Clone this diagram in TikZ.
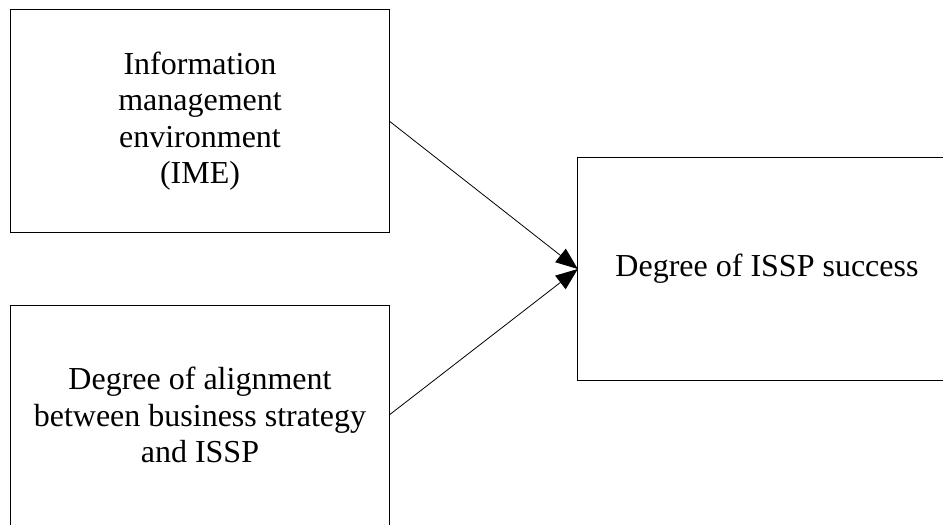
\documentclass[tikz,border=0pt]{standalone}
\usepackage{fontspec}
\setmainfont{Liberation Serif}
\usetikzlibrary{arrows.meta}
\begin{document}
\begin{tikzpicture}[x=1pt,y=-1pt,
  box/.style={minimum width=378pt,inner sep=0pt,align=center,
    font=\fontsize{32}{36.5}\selectfont},
  frame/.style={draw=black,line width=1.2pt},
  conn/.style={draw=black,line width=0.8pt,-{Triangle[length=22pt,width=17pt]}}]
\useasboundingbox (0,0) rectangle (943,525);
\node[box,minimum height=222pt] (ime) at (200,121) {Information\\management\\environment\\(IME)};
\node[box,minimum height=218pt] (align) at (200,415) {Degree of alignment\\between business strategy\\and ISSP};
\node[box,minimum height=222pt] (succ) at (767,269) {Degree of ISSP success};
\begin{scope}
\clip (0,0) rectangle (943,525);
\draw[frame] (ime.north west) rectangle (ime.south east);
\draw[frame] (align.north west) rectangle ([yshift=-20pt]align.south east);
\draw[frame] (succ.north west) rectangle ([xshift=20pt]succ.south east);
\end{scope}
\draw[conn] (ime.east) -- (succ.west);
\draw[conn] (align.east) -- (succ.west);
\end{tikzpicture}
\end{document}
